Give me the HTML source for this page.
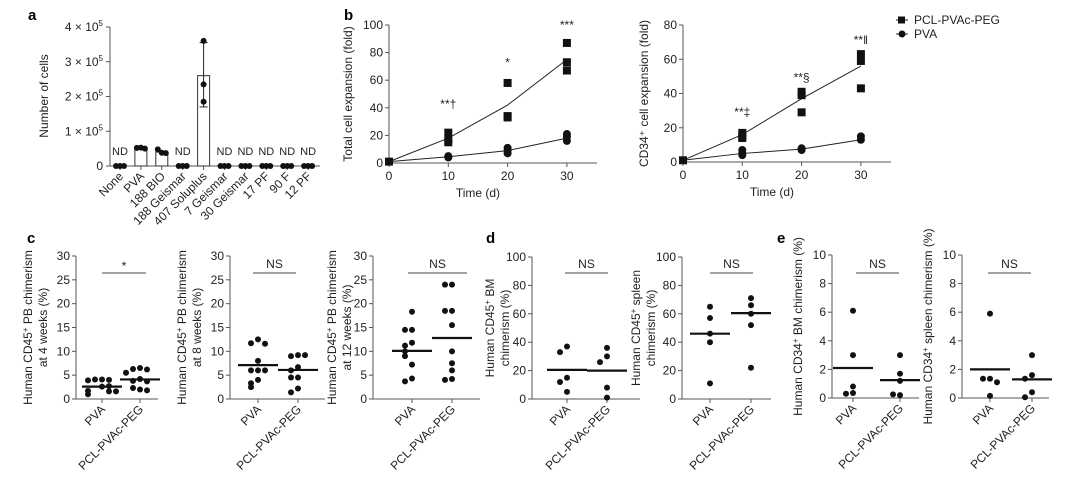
<!DOCTYPE html>
<html><head><meta charset="utf-8"><style>
html,body{margin:0;padding:0;background:#fff;}
svg{display:block;font-family:"Liberation Sans",Arial,sans-serif;}
</style></head><body>
<svg id="fig" width="1081" height="478" viewBox="0 0 1081 478" xmlns="http://www.w3.org/2000/svg"></svg>
<script>
// ---------- DATA ----------
// Panel a
const aCategories = ["None","PVA","188 BIO","188 Geismar","407 Soluplus","7 Geismar","30 Geismar","17 PF","90 F","12 PF"];
const aBarValues = [0,0.5e5,0.4e5,0,2.6e5,0,0,0,0,0];
const aPoints = [[0,0,0],[0.52e5,0.53e5,0.5e5],[0.48e5,0.38e5,0.37e5],[0,0,0],[3.6e5,2.35e5,1.85e5],[0,0,0],[0,0,0],[0,0,0],[0,0,0],[0,0,0]];
const aErrLow = [0,0,0,0,1.7e5,0,0,0,0,0];
const aErrHigh = [0,0,0,0,3.55e5,0,0,0,0,0];
const aND = [true,false,false,true,false,true,true,true,true,true];
const aTicks = [0,1,2,3,4];
// Panel b
const bTimes = [0,10,20,30];
const bTotalPegPts = [[1],[22,17,15],[58,34,33],[87,73,67]];
const bTotalPegMean = [1,18,42,75];
const bTotalPvaPts = [[1],[5,4],[11,9,7],[21,19,16]];
const bTotalPvaMean = [1,4.5,9,18];
const bTotalAnn = ["","**†","*","***"];
const bTotalAnnY = [0,40,70,97];
const bCdPegPts = [[1],[17,15,14],[41,39,29],[63,59,43]];
const bCdPegMean = [1,16,37,56];
const bCdPvaPts = [[1],[7,5,4],[8,7],[15,13]];
const bCdPvaMean = [1,5,7.5,13];
const bCdAnn = ["","**‡","**§","**‖"];
const bCdAnnY = [0,27,47,69];
// Scatter panels c,d,e
const groups = ["PVA","PCL-PVAc-PEG"];
const c1Pva = [4.1,4.1,4.0,3.9,2.6,2.7,1.6,1.7,1.6,1.0];
const c1Peg = [6.5,6.3,6.2,5.5,4.2,3.8,3.7,2.0,2.3,1.8];
const c1Lines = [2.6,4.1];
const c2Pva = [12.5,11.7,11.6,8.0,6.0,6.0,6.0,4.0,3.3,2.5];
const c2Peg = [9.2,9.0,9.2,6.7,6.0,4.5,4.5,2.2,1.4];
const c2Lines = [7.1,6.1];
const c3Pva = [18.3,14.5,14.5,11.8,11.2,10.0,9.0,7.2,4.3,3.7];
const c3Peg = [24,24,18.5,18.5,15.5,10.0,7.5,6.0,4.2,4.0];
const c3Lines = [10.1,12.8];
const d1Pva = [37,33,15,12,5];
const d1Peg = [36,30,26,8,1];
const d1Lines = [20.5,20];
const d2Pva = [65,57,46,40,11];
const d2Peg = [71,66,60,52,22];
const d2Lines = [46,60.5];
const e1Pva = [6.1,3.0,0.8,0.35,0.3];
const e1Peg = [3.0,1.7,1.2,0.2,0.25];
const e1Lines = [2.1,1.25];
const e2Pva = [5.9,1.35,1.35,1.1,0.15];
const e2Peg = [3.0,1.6,1.35,0.4,0.05];
const e2Lines = [2.0,1.3];

// ---------- HELPERS ----------
const NS="http://www.w3.org/2000/svg";
const svg=document.getElementById('fig');
const INK="#222", AX="#555";
function el(tag,attrs,parent){const e=document.createElementNS(NS,tag);for(const k in attrs)e.setAttribute(k,attrs[k]);(parent||svg).appendChild(e);return e;}
function txt(s,x,y,attrs,parent){const t=el('text',Object.assign({x:x,y:y,fill:INK,'font-size':12},attrs||{}),parent);t.textContent=s;return t;}
function lin(x1,y1,x2,y2,parent,w,c){return el('line',{x1:x1,y1:y1,x2:x2,y2:y2,stroke:c||AX,'stroke-width':w||1},parent);}
function group(name){const g=el('g',{});return g;}

// panel labels
[["a",28,20],["b",344,20],["c",27,243],["d",486,243],["e",777,243]].forEach(p=>{
  const t=txt(p[0],p[1],p[2],{'font-weight':'bold','font-size':15,fill:'#000'});
  
  
});

// ---------- PANEL A ----------
(function(){
  const g=group('panel-a-bar-chart');
  const x0=110,xEnd=320,y0=166,yTop=27;
  const ya=v=>y0-(v/4e5)*(y0-yTop);
  const xa=i=>120+i*20.9;
  lin(x0,yTop,x0,y0,g); lin(x0,y0,xEnd,y0,g);
  aTicks.forEach(t=>{const y=ya(t*1e5);lin(x0-4,y,x0,y,g);
    const tt=txt('',x0-7,y+4,{'text-anchor':'end','font-size':12},g);
    if(t===0){tt.textContent='0';}else{tt.textContent=t+' × 10';const s=el('tspan',{dy:-5,'font-size':8},tt);s.textContent='5';}
    });
  const yl=txt('Number of cells',0,0,{'text-anchor':'middle',transform:'translate(48,96) rotate(-90)','font-size':12},g);
  
  aCategories.forEach((c,i)=>{
    const cx=xa(i);
    lin(cx,y0,cx,y0+4,g);
    if(aBarValues[i]>0){const r=el('rect',{x:cx-6,y:ya(aBarValues[i]),width:12,height:y0-ya(aBarValues[i]),fill:'#fff',stroke:'#333','stroke-width':1},g);
      }
    if(aErrHigh[i]>0){lin(cx,ya(aErrLow[i]),cx,ya(aErrHigh[i]),g,1,'#222');lin(cx-4,ya(aErrLow[i]),cx+4,ya(aErrLow[i]),g,1,'#222');lin(cx-4,ya(aErrHigh[i]),cx+4,ya(aErrHigh[i]),g,1,'#222');}
    const offs=[-4,0,4];
    aPoints[i].forEach((v,j)=>{const d=el('circle',{cx:cx+(aBarValues[i]>=2e5?0:offs[j]),cy:ya(v),r:3,fill:'#111'},g);
      });
    if(aND[i]){const n=txt('ND',cx,155,{'text-anchor':'middle','font-size':11},g);}
    const xl=txt(c,0,0,{'text-anchor':'end','font-size':12,transform:'translate('+(cx+4)+','+(y0+11)+') rotate(-45)'},g);
    
  });
})();

// ---------- PANEL B ----------
function linePanel(name,x0,xEnd,y0,yTop,ymax,ystep,pxPerDay,pegPts,pegMean,pvaPts,pvaMean,ann,annY,title,labelX){
  const g=group(name);
  const ya=v=>y0-(v/ymax)*(y0-yTop);
  const xa=t=>x0+t*pxPerDay;
  lin(x0,yTop,x0,y0,g);lin(x0,y0,xEnd,y0,g);
  for(let v=0;v<=ymax;v+=ystep){const y=ya(v);lin(x0-4,y,x0,y,g);const t=txt(String(v),x0-6,y+4,{'text-anchor':'end'},g);}
  bTimes.forEach(t=>{lin(xa(t),y0,xa(t),y0+4,g);const l=txt(String(t),xa(t),y0+17,{'text-anchor':'middle'},g);});
  const xt=txt('Time (d)',(x0+xa(30))/2,y0+34,{'text-anchor':'middle'},g);
  const yt=txt(title,0,0,{'text-anchor':'middle',transform:'translate('+labelX+','+((y0+yTop)/2)+') rotate(-90)'},g);
  const lp=(m)=>m.map((v,i)=>xa(bTimes[i])+','+ya(v)).join(' ');
  const l1=el('polyline',{points:lp(pegMean),fill:'none',stroke:'#222','stroke-width':1},g);
  const l2=el('polyline',{points:lp(pvaMean),fill:'none',stroke:'#222','stroke-width':1},g);
  pegPts.forEach((arr,i)=>arr.forEach(v=>{const r=el('rect',{x:xa(bTimes[i])-4,y:ya(v)-4,width:8,height:8,fill:'#111'},g);}));
  pvaPts.forEach((arr,i)=>arr.forEach(v=>{if(i===0)return;const c=el('circle',{cx:xa(bTimes[i]),cy:ya(v),r:4,fill:'#111'},g);}));
  ann.forEach((a,i)=>{if(!a)return;const t=txt(a,xa(bTimes[i]),ya(annY[i]),{'text-anchor':'middle','font-size':12},g);});
}
linePanel('panel-b-total-expansion',389,597,163,25,100,20,5.93,bTotalPegPts,bTotalPegMean,bTotalPvaPts,bTotalPvaMean,bTotalAnn,bTotalAnnY,'Total cell expansion (fold)',352);
linePanel('panel-b-cd34-expansion',683,891,162,25,80,20,5.93,bCdPegPts,bCdPegMean,bCdPvaPts,bCdPvaMean,bCdAnn,bCdAnnY,'CD34⁺ cell expansion (fold)',648);
(function(){
  const g=group('legend');
  lin(896,20,908,20,g,1,'#222');const s=el('rect',{x:898,y:16.5,width:7,height:7,fill:'#111'},g);
  const t1=txt('PCL-PVAc-PEG',914,24,{},g);
  lin(896,34,908,34,g,1,'#222');const c=el('circle',{cx:902,cy:34,r:3.5,fill:'#111'},g);
  const t2=txt('PVA',914,38,{},g);
})();

// ---------- SCATTER PANELS ----------
function scatter(name,x0,xEnd,yTop,y0,ymax,ystep,cxs,pva,peg,lines,sig,sigX1,sigX2,titleLines,titleX){
  const g=group(name);
  const ya=v=>y0-(v/ymax)*(y0-yTop);
  lin(x0,yTop,x0,y0,g);lin(x0,y0,xEnd,y0,g);
  for(let v=0;v<=ymax+1e-9;v+=ystep){const y=ya(v);lin(x0-4,y,x0,y,g);const t=txt(String(+v.toFixed(2)),x0-6,y+4,{'text-anchor':'end'},g);}
  groups.forEach((gname,i)=>{lin(cxs[i],y0,cxs[i],y0+4,g);
    const l=txt(gname,0,0,{'text-anchor':'end',transform:'translate('+(cxs[i]+4)+','+(y0+11)+') rotate(-45)'},g);});
  [pva,peg].forEach((arr,i)=>{
    const placed=[];
    arr.forEach(v=>{const y=ya(v);const near=placed.filter(p=>Math.abs(p-y)<6).length;placed.push(y);
      const off=[0,-7,7,-14,14,-21,21][near]||0;
      const c=el('circle',{cx:cxs[i]+off,cy:y,r:3,fill:'#111'},g);});
    const m=lin(cxs[i]-20,ya(lines[i]),cxs[i]+20,ya(lines[i]),g,2.2,'#111');
  });
  lin(sigX1,273,sigX2,273,g,1,'#444');
  const s=txt(sig,(sigX1+sigX2)/2,sig==='*'?270:268,{'text-anchor':'middle'},g);
  titleLines.forEach((tl,k)=>{const t=txt('',0,0,{'text-anchor':'middle',transform:'translate('+(titleX+k*15)+','+((y0+yTop)/2)+') rotate(-90)'},g);
    t.innerHTML=tl;});
}
const sup='<tspan dy="-4" font-size="8">+</tspan><tspan dy="4"> </tspan>';
scatter('panel-c-4-weeks',76,158,256,399,30,5,[102,140],c1Pva,c1Peg,c1Lines,'*',102,146,['Human CD45'+sup+'PB chimerism','at 4 weeks (%)'],32);
scatter('panel-c-8-weeks',230,325,256,399,30,5,[258,298],c2Pva,c2Peg,c2Lines,'NS',253,296,['Human CD45'+sup+'PB chimerism','at 8 weeks (%)'],186);
scatter('panel-c-12-weeks',373,480,256,399,30,5,[412,452],c3Pva,c3Peg,c3Lines,'NS',408,467,['Human CD45'+sup+'PB chimerism','at 12 weeks (%)'],336);
scatter('panel-d-bm',532,640,257,399,100,20,[567,607],d1Pva,d1Peg,d1Lines,'NS',565,608,['Human CD45'+sup+'BM','chimerism (%)'],494);
scatter('panel-d-spleen',682,771,257,399,100,20,[710,751],d2Pva,d2Peg,d2Lines,'NS',710,753,['Human CD45'+sup+'spleen','chimerism (%)'],640);
scatter('panel-e-bm',832,919,255,398,10,2,[853,900],e1Pva,e1Peg,e1Lines,'NS',856,899,['Human CD34'+sup+'BM chimerism (%)'],802);
scatter('panel-e-spleen',962,1049,255,398,10,2,[990,1032],e2Pva,e2Peg,e2Lines,'NS',988,1031,['Human CD34'+sup+'spleen chimerism (%)'],932);
</script>
</body></html>
